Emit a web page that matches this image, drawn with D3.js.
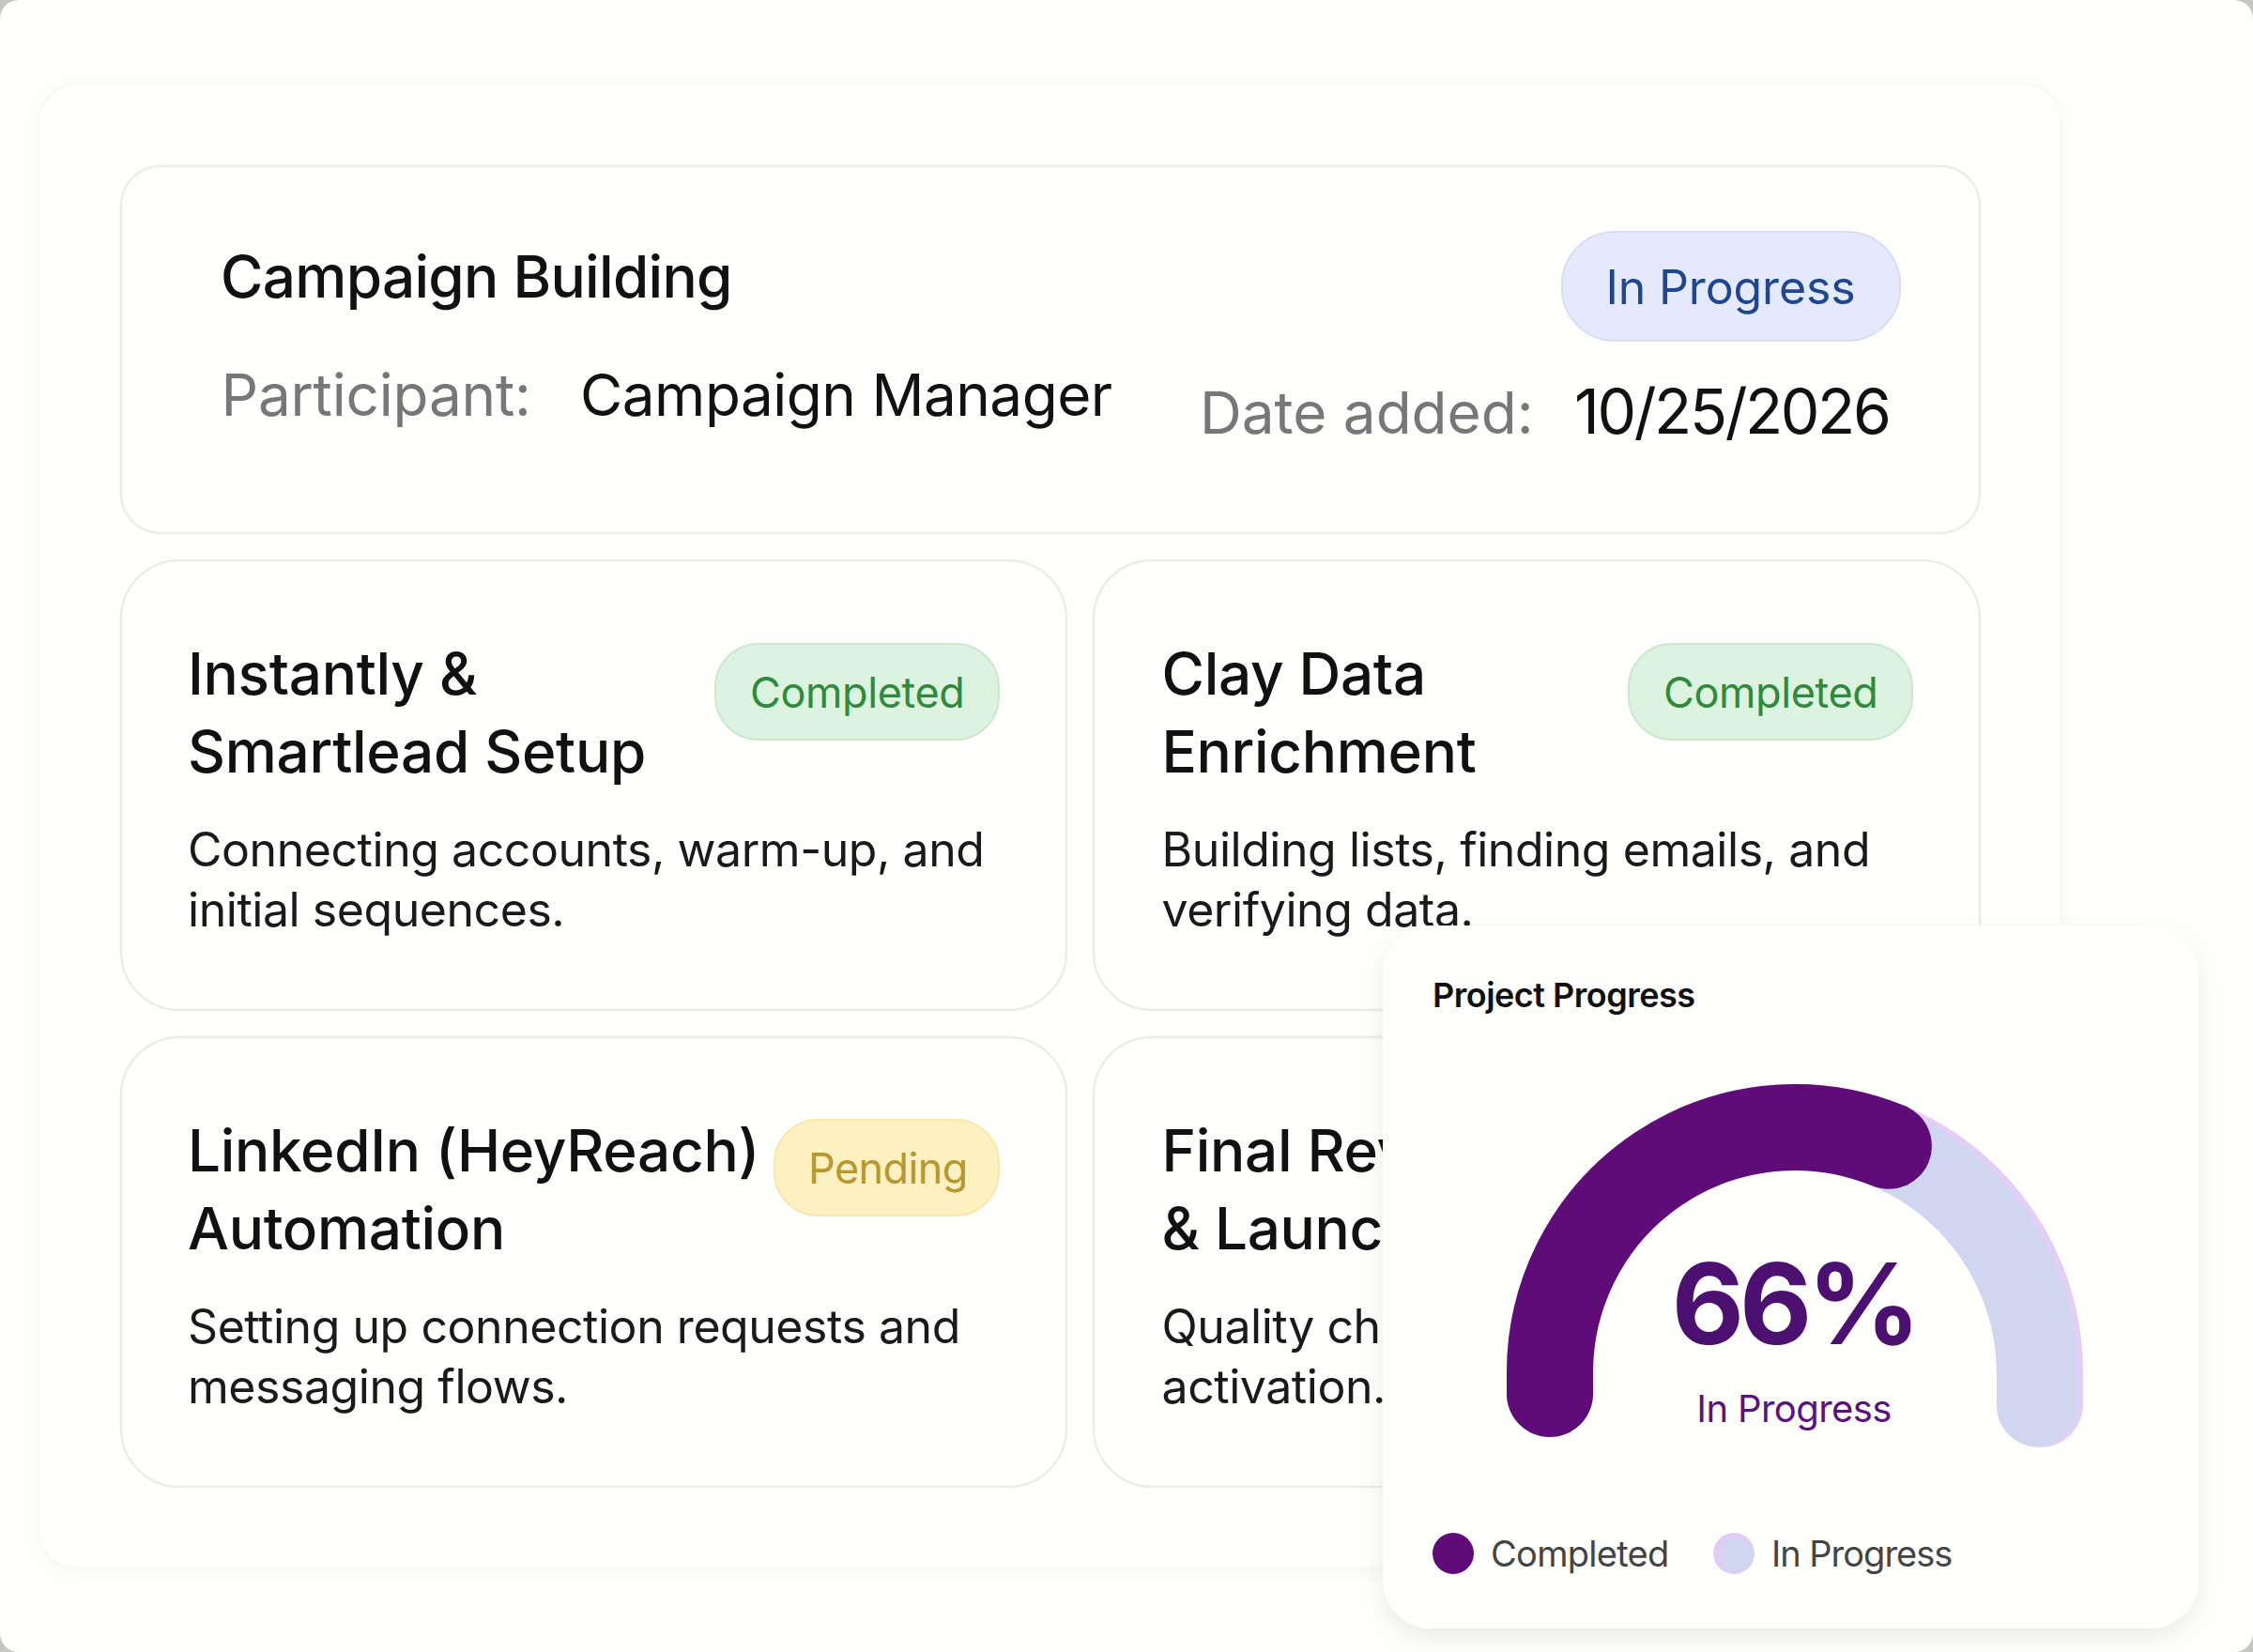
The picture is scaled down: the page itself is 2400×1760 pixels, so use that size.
<!DOCTYPE html>
<html>
<head>
<meta charset="utf-8">
<script src="https://cdn.jsdelivr.net/npm/d3@7"></script>
<style>
  html, body { margin: 0; padding: 0; background: #c6c6c4; }
  svg { display: block; }
  text { font-family: Inter, "Noto Sans", sans-serif; }
</style>
</head>
<body>
<div id="chart"></div>
<script>
// header card
const projectTitle = "Campaign Building";
const participantLabel = "Participant:";
const participantName = "Campaign Manager";
const dateLabel = "Date added:";
const dateValue = "10/25/2026";
const projectStatus = "In Progress";

// task cards, row by row
const taskTitles = [
  ["Instantly &", "Smartlead Setup"],
  ["Clay Data", "Enrichment"],
  ["LinkedIn (HeyReach)", "Automation"],
  ["Final Review", "& Launch"]
];
const taskDescriptions = [
  ["Connecting accounts, warm-up, and", "initial sequences."],
  ["Building lists, finding emails, and", "verifying data."],
  ["Setting up connection requests and", "messaging flows."],
  ["Quality checks and", "activation."]
];
const taskStatuses = ["Completed", "Completed", "Pending", null];

// gauge panel
const gaugeTitle = "Project Progress";
const gaugeValue = 66;
const gaugeStatus = "In Progress";
const legendLabels = ["Completed", "In Progress"];

const width = 2400, height = 1760;

const svg = d3.select("#chart").append("svg")
  .attr("width", width)
  .attr("height", height);

const defs = svg.append("defs");
const shadow = defs.append("filter").attr("id", "panelShadow")
  .attr("x", "-10%").attr("y", "-10%").attr("width", "120%").attr("height", "120%");
shadow.append("feDropShadow")
  .attr("dx", -1).attr("dy", 10).attr("stdDeviation", 11)
  .attr("flood-color", "#000").attr("flood-opacity", 0.07);
const softShadow = defs.append("filter").attr("id", "softShadow")
  .attr("x", "-5%").attr("y", "-5%").attr("width", "110%").attr("height", "110%");
softShadow.append("feDropShadow")
  .attr("dx", 0).attr("dy", 5).attr("stdDeviation", 7)
  .attr("flood-color", "#000").attr("flood-opacity", 0.025);

function label(parent, str, x, y, size, weight, fill, spacing) {
  return parent.append("text")
    .attr("x", x).attr("y", y)
    .attr("font-size", size)
    .attr("font-weight", weight)
    .attr("fill", fill)
    .attr("letter-spacing", spacing || 0)
    .text(str);
}

// status colours
const pillFill = d3.scaleOrdinal()
  .domain(["Completed", "Pending", "In Progress"])
  .range(["#dcf3df", "#fdf1c1", "#e4eafb"]);
const pillStroke = d3.scaleOrdinal()
  .domain(["Completed", "Pending", "In Progress"])
  .range(["#cbe8ce", "#f6e8ae", "#d8def2"]);
const pillText = d3.scaleOrdinal()
  .domain(["Completed", "Pending", "In Progress"])
  .range(["#2f8a3c", "#b5982e", "#1f4690"]);

// page and outer card
svg.append("rect").attr("width", width).attr("height", height).attr("rx", 20)
  .attr("fill", "#fefefc");
svg.append("rect")
  .attr("x", 41).attr("y", 89).attr("width", 2155).attr("height", 1582).attr("rx", 42)
  .attr("fill", "#fefefd").attr("stroke", "#f8f8f6").attr("stroke-width", 2)
  .attr("filter", "url(#softShadow)");

// header card
const head = svg.append("g");
head.append("rect")
  .attr("x", 129).attr("y", 177).attr("width", 1980).attr("height", 391).attr("rx", 42)
  .attr("fill", "#fefefd").attr("stroke", "#ececea").attr("stroke-width", 2.5);
label(head, projectTitle, 235, 317, 62, 500, "#111", -0.7);
label(head, participantLabel, 235.5, 443, 62, 400, "#777", -0.2);
label(head, participantName, 618, 443, 62, 400, "#111", -0.5);
label(head, dateLabel, 1278, 462, 62, 400, "#777", 0);
label(head, dateValue, 1677, 462, 66, 400, "#111", -2.4);
head.append("rect")
  .attr("x", 1664).attr("y", 247).attr("width", 360).attr("height", 116).attr("rx", 56)
  .attr("fill", pillFill(projectStatus)).attr("stroke", pillStroke(projectStatus)).attr("stroke-width", 2);
label(head, projectStatus, 1710.5, 324, 50, 400, pillText(projectStatus), -0.15);

// task cards
const colX = d3.scaleOrdinal().domain([0, 1]).range([129, 1165]);
const colW = d3.scaleOrdinal().domain([0, 1]).range([1007, 944]);
const textX = d3.scaleOrdinal().domain([0, 1]).range([71, 72.5]);
const rowY = d3.scalePoint().domain([0, 1]).range([597, 1105]);

taskTitles.forEach((title, i) => {
  const col = i % 2, row = Math.floor(i / 2);
  const x = colX(col), y = rowY(row);
  const card = svg.append("g").attr("transform", `translate(${x},${y})`);
  card.append("rect")
    .attr("width", colW(col)).attr("height", 479).attr("rx", 62)
    .attr("fill", "#fefefd").attr("stroke", "#ececea").attr("stroke-width", 2.5);
  title.forEach((line, k) => label(card, line, textX(col), 142.5 + k * 83, 62, 500, "#111", -0.3));
  taskDescriptions[i].forEach((line, k) => label(card, line, textX(col), 326 + k * 64, 50, 400, "#1a1a1a", -0.45));

  const status = taskStatuses[i];
  if (status) {
    const pw = status === "Pending" ? 239 : 302;
    const right = col === 0 ? 1064 - 129 : 2037 - 1165;
    const badge = card.append("g").attr("transform", `translate(${right - pw},${status === "Pending" ? 88 : 89})`);
    badge.append("rect")
      .attr("width", pw).attr("height", 102).attr("rx", 46)
      .attr("fill", pillFill(status)).attr("stroke", pillStroke(status)).attr("stroke-width", 2);
    label(badge, status, status === "Pending" ? 36 : 37, 68, 45, 400, pillText(status), status === "Pending" ? -0.6 : -0.4);
  }
});

// floating gauge panel
const panel = svg.append("g");
panel.append("rect")
  .attr("x", 1473).attr("y", 986).attr("width", 869).attr("height", 749).attr("rx", 52)
  .attr("fill", "#fefefd").attr("filter", "url(#panelShadow)");
label(panel, gaugeTitle, 1526, 1073, 36, 600, "#111", -0.5);

const cx = 1912, cy = 1462, radius = 261, thick = 92;
const leftLeg = 23, rightLeg = 34;

// percent -> angle along the arch, 0 deg at the top
const angle = d3.scaleLinear().domain([0, 100]).range([-94, 82.5]);
const rad = d => (d - 90) * Math.PI / 180;

function archPath(endDeg, withRightLeg) {
  const p = d3.path();
  p.moveTo(cx - radius, cy + leftLeg);
  p.lineTo(cx - radius, cy);
  p.arc(cx, cy, radius, rad(-90), rad(endDeg));
  if (withRightLeg) p.lineTo(cx + radius, cy + rightLeg);
  return p.toString();
}

const gauge = panel.append("g").attr("fill", "none").attr("stroke-linecap", "round");
gauge.append("path").attr("d", archPath(90, true))
  .attr("stroke", "#e3cff6").attr("stroke-width", thick);
gauge.append("path").attr("d", archPath(90, true))
  .attr("stroke", "#d1d6f0").attr("stroke-width", thick - 6)
  .attr("transform", "translate(-3,2)");
gauge.append("path").attr("d", archPath(angle(gaugeValue), false))
  .attr("stroke", "#5f0c78").attr("stroke-width", thick);

label(panel, gaugeValue + "%", 1911, 1432, 119, 700, "#4c1170", -5).attr("text-anchor", "middle");
label(panel, gaugeStatus, 1911, 1515, 40, 400, "#5b1280", -0.6).attr("text-anchor", "middle");

// legend
const legendX = d3.scalePoint().domain(legendLabels).range([1548, 1847]);
const legendFill = d3.scaleOrdinal().domain(legendLabels).range(["#5f0c78", "#e0ccf5"]);
legendLabels.forEach((d, i) => {
  panel.append("circle")
    .attr("cx", legendX(d)).attr("cy", 1655).attr("r", 22)
    .attr("fill", legendFill(d));
  if (i === 1) {
    panel.append("circle")
      .attr("cx", legendX(d) + 3).attr("cy", 1657).attr("r", 18)
      .attr("fill", "#d1d6f0");
  }
  label(panel, d, legendX(d) + 40, 1669, 38, 400, "#444", i === 1 ? -1 : -0.7);
});
</script>
</body>
</html>
